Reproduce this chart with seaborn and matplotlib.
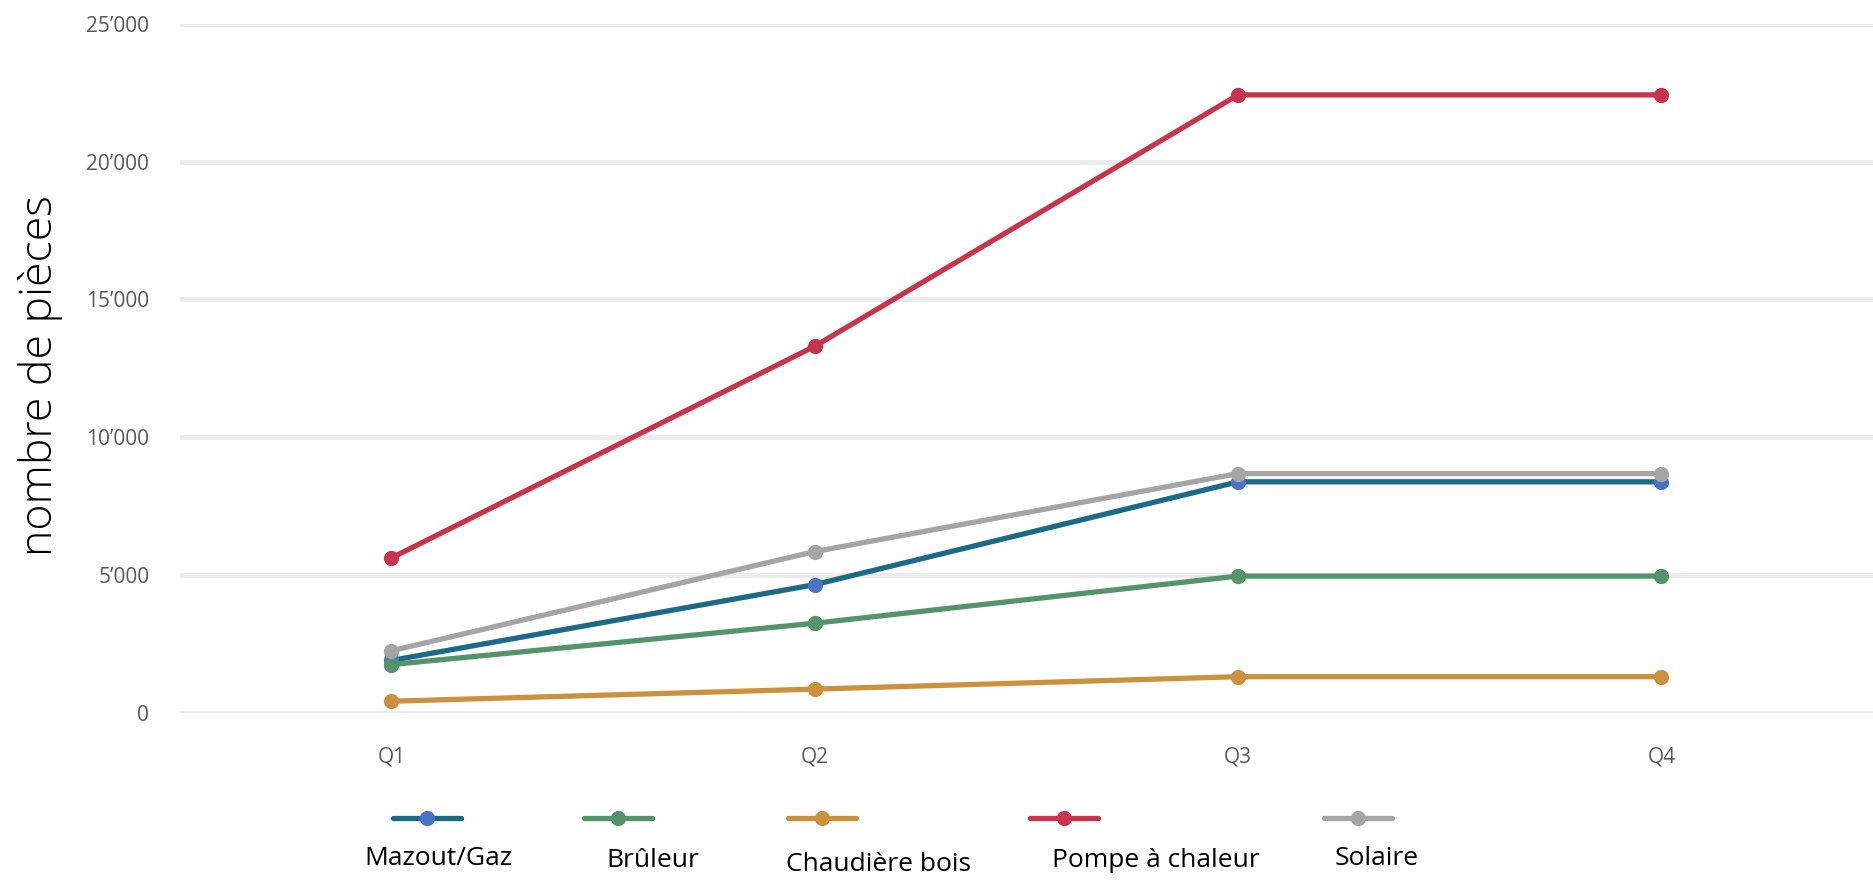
import numpy as np
import pandas as pd
import matplotlib
matplotlib.use('Agg')
import matplotlib.pyplot as plt
from matplotlib.lines import Line2D
from matplotlib.ticker import FuncFormatter
import seaborn as sns

sns.set_theme(style='white')
plt.rcParams['font.family'] = ['Open Sans', 'DejaVu Sans']

# données
quarters = ['Q1', 'Q2', 'Q3', 'Q4']
series = ['Mazout/Gaz', 'Brûleur', 'Chaudière bois', 'Pompe à chaleur', 'Solaire']
mazout = [1900, 4650, 8380, 8380]
bruleur = [1750, 3250, 4960, 4960]
chaudiere = [420, 860, 1310, 1310]
pompe = [5620, 13300, 22420, 22420]
solaire = [2250, 5850, 8680, 8680]

line_colors = ['#1b6a87', '#54946a', '#cc913d', '#c8344b', '#a5a5a5']
marker_colors = ['#4a73c6', '#54946a', '#cc913d', '#c8344b', '#a5a5a5']

df = pd.DataFrame({
    'Quarter': quarters * 5,
    'Série': np.repeat(series, 4),
    'Valeur': mazout + bruleur + chaudiere + pompe + solaire,
})

fig = plt.figure(figsize=(18.73, 8.80), dpi=100)
ax = fig.add_axes([0.096, 0.19, 0.904, 0.783])

sns.lineplot(data=df, x='Quarter', y='Valeur', hue='Série', hue_order=series,
             palette=dict(zip(series, line_colors)), marker='o', markersize=11,
             markeredgewidth=0, linewidth=3.8, sort=False, legend=False, ax=ax)

for ln, mc in zip(ax.lines, marker_colors):
    ln.set_markerfacecolor(mc)
    ln.set_clip_on(False)

ax.set_xlim(-0.5, 3.5)
ax.set_ylim(0, 25000)
ax.set_yticks([0, 5000, 10000, 15000, 20000, 25000])
ax.yaxis.set_major_formatter(FuncFormatter(lambda v, p: f'{int(v):,}'.replace(',', '\u2019')))
ax.grid(axis='y', color='#ebebeb', linewidth=3.5)
ax.grid(axis='x', visible=False)
ax.set_axisbelow(True)
for s in ax.spines.values():
    s.set_visible(False)
ax.tick_params(axis='y', colors='#595959', labelsize=15, pad=22, length=0)
ax.tick_params(axis='x', colors='#595959', labelsize=15, pad=24, length=0)
ax.set_xlabel('')
ax.set_ylabel('nombre de pièces', fontsize=32, color='black', fontweight='light')
ax.yaxis.set_label_coords(-0.069, 0.49)

# légende : symbole au-dessus, texte en dessous
handle_x = [427, 618, 822, 1064, 1358]
label_x = [438, 653, 878, 1156, 1377]
label_y = [858, 860, 864, 860, 858]
W, H = 1873, 880
for i, name in enumerate(series):
    xc = handle_x[i] / W
    yc = 1 - 818 / H
    fig.add_artist(Line2D([xc - 34 / W, xc + 34 / W], [yc, yc], color=line_colors[i],
                          linewidth=3.8, transform=fig.transFigure))
    fig.add_artist(Line2D([xc], [yc], marker='o', markersize=11, markeredgewidth=0,
                          color=marker_colors[i], transform=fig.transFigure))
    fig.text(label_x[i] / W, 1 - label_y[i] / H, name, ha='center', va='center',
             fontsize=19, color='black')

fig.savefig('out.png', dpi=100)
